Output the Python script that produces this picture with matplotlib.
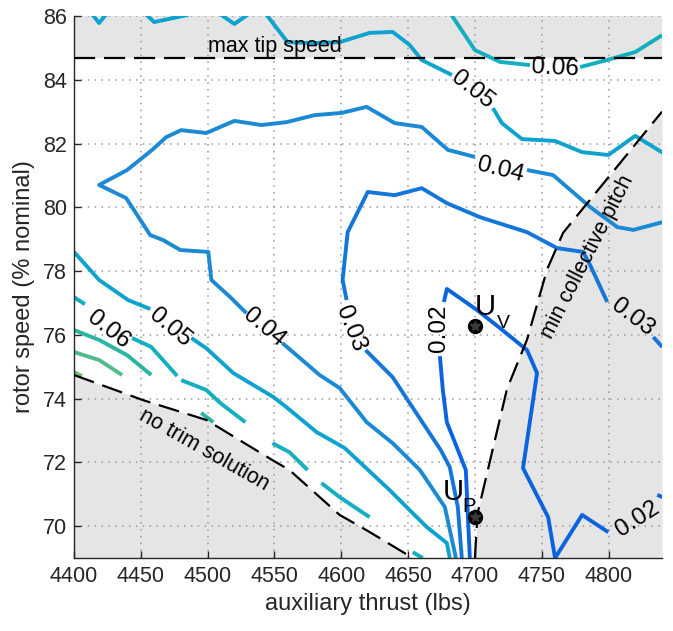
import numpy as np
import matplotlib
matplotlib.use('Agg')
import matplotlib.pyplot as plt

plt.rcParams['font.family'] = ['Liberation Sans', 'DejaVu Sans']

nan = np.nan

# ---- contour polylines (auxiliary thrust lbs, rotor speed % nominal); nan = break
c02_x = [4696.2, 4693.2, 4679.0, 4676.0, 4673.8, nan, 4676.8, 4679.0, 4701.5, 4718.8, 4739.0, 4746.5,
         4743.5, 4736.0, 4754.8, 4760.0, 4780.2, 4799.8, nan, 4836.5, 4840.2]
c02_y = [69.0, 71.76, 73.26, 74.27, 75.33, nan, 77.03, 77.44, 76.78, 76.21, 75.52, 74.80,
         73.95, 71.82, 70.28, 69.0, 70.35, 69.81, nan, 70.98, 70.91]

c03_x = [4690.2, 4687.2, 4681.2, 4674.5, 4651.2, 4638.5, 4618.2, nan, 4604.0, 4601.0, 4604.8, 4619.8,
         4640.0, 4660.2, 4679.0, 4703.8, 4739.0, 4761.5, 4781.0, 4786.2, 4799.0, nan, 4833.5, 4840.2]
c03_y = [69.0, 70.60, 71.85, 72.38, 73.86, 74.67, 75.52, nan, 77.09, 77.72, 79.22, 80.48,
         80.38, 80.60, 80.13, 79.69, 79.22, 78.72, 78.60, 78.19, 77.03, nan, 75.93, 75.62]

c04_x = [4685.8, 4677.5, 4658.8, 4638.5, 4619.0, 4598.8, 4583.8, 4556.0, nan, 4529.0, 4517.0, 4502.8,
         4500.5, 4479.5, 4466.8, 4457.0, 4439.0, 4418.8, 4439.8, 4458.5, 4469.0, 4480.2, 4499.0, 4520.0,
         4540.2, 4559.0, 4580.0, 4600.2, 4619.0, 4640.0, 4660.2, 4679.8, 4700.0, nan, 4739.0, 4758.5,
         4786.2, 4806.5, 4818.5, 4841.0]
c04_y = [69.0, 70.60, 71.76, 72.60, 73.26, 74.33, 74.74, 75.74, nan, 76.68, 77.18, 77.72,
         78.60, 78.66, 78.97, 79.13, 80.29, 80.70, 81.17, 81.80, 82.20, 82.42, 82.33, 82.71,
         82.58, 82.67, 82.89, 82.96, 83.15, 82.64, 82.52, 81.80, 81.58, nan, 81.17, 81.01,
         80.01, 79.38, 79.29, 79.54]

c05a_x = [4400, 4418.8, 4440.5, 4457.0, nan, 4487.8, 4499.0, 4519.2, 4549.2, 4559.0, 4581.5, 4602.5,
          4636.2, 4651.2, 4664.0, 4679.0, 4681.2]
c05a_y = [78.60, 77.72, 77.09, 76.81, nan, 75.90, 75.58, 74.80, 74.05, 73.73, 72.95, 72.45,
          71.13, 70.50, 69.97, 69.47, 69.0]

c05b_x = [4409.8, 4418.8, 4427.8, 4448.8, 4460.0, 4484.8, 4490.0, 4502.8, 4520.0, 4537.2, 4540.2,
          4559.8, 4578.5, 4598.8, 4621.2, 4638.5, 4651.2, 4660.2, 4682.8, nan, 4713.5, 4720.2, 4735.2,
          4760.0, 4780.2, 4799.8, 4820.0, 4841.0]
c05b_y = [86.25, 85.78, 86.25, 86.25, 85.81, 86.03, 86.25, 86.25, 85.75, 86.25, 86.25,
          85.18, 85.15, 85.18, 85.47, 85.50, 85.09, 84.62, 84.15, nan, 83.11, 82.64, 82.14,
          82.08, 81.73, 81.64, 82.24, 81.70]

c06a_x = [4400, 4408.2, nan, 4443.5, 4457.8, 4477.2, nan, 4480.2, 4499.0, 4509.5, 4528.2, nan,
          4548.5, 4561.2, 4574.8, nan, 4585.2, 4598.8, 4621.2, nan, 4653.5, 4661.0]
c06a_y = [77.18, 76.96, nan, 75.90, 75.62, 74.71, nan, 74.58, 74.27, 73.86, 73.26, nan,
          72.60, 72.32, 71.76, nan, 71.35, 70.91, 70.28, nan, 69.18, 69.0]

c06b_x = [4679.8, 4700.0, 4718.8, 4741.2, nan, 4778.8, 4799.0, 4820.0, 4840.2]
c06b_y = [86.2, 84.93, 84.56, 84.46, nan, 84.40, 84.62, 84.87, 85.40]

c07_x = [4400, 4418.8, 4439.8, 4457.8, nan, 4495.2, 4504.2]
c07_y = [76.15, 75.84, 75.36, 74.74, nan, 73.55, 73.26]
c08_x = [4400, 4418.8, 4436.0]
c08_y = [75.46, 75.21, 74.74]
c09_x = [4400, 4406.0]
c09_y = [74.83, 74.71]

# ---- constraint boundaries
notrim_x = [4400, 4451.8, 4499.0, 4548.5, 4561.2, 4598.8, 4619.0, 4653.5]
notrim_y = [74.74, 73.95, 73.33, 72.07, 71.76, 70.35, 69.87, 69.0]
mincol_x = [4700, 4702.0, 4724.0, 4739.0, 4754.0, 4766.0, 4840.0]
mincol_y = [69.0, 70.4, 74.3, 75.85, 78.05, 79.2, 83.0]
tip_speed = 84.68

# ---- design points
pt_x = [4700, 4700]
pt_y = [76.27, 70.3]

# ---- contour labels
lab_txt = ['0.02', '0.02', '0.03', '0.03', '0.04', '0.04', '0.05', '0.05', '0.06', '0.06']
lab_x = [4673.5, 4821.5, 4607.0, 4817.8, 4542.5, 4718.8, 4698.5, 4472.0, 4425.5, 4760.0]
lab_y = [76.2, 70.22, 76.2, 76.53, 76.24, 81.17, 83.68, 76.21, 76.15, 84.37]
lab_rot = [90, 33, -68, -37, -40, -14, -38, -40, -38, -3]

xticks = [4400, 4450, 4500, 4550, 4600, 4650, 4700, 4750, 4800]
yticks = [70, 72, 74, 76, 78, 80, 82, 84, 86]

colors = {
    '02': '#0a64df', '03': '#1476da', '04': '#1b89d4', '05': '#0ea3cf',
    '06': '#13afbf', '07': '#2bb5a2', '08': '#50bb8c', '09': '#6ebf78',
}

fig = plt.figure(figsize=(6.73, 6.31), dpi=100)
ax = fig.add_axes([74/673, (631-558)/631, (662-74)/673, (558-16)/631])
ax.set_xlim(4400, 4840)
ax.set_ylim(69, 86)

shade = '#e5e5e5'
ax.fill_between(notrim_x, 69, notrim_y, color=shade, lw=0, zorder=0.2)
ax.fill_betweenx(mincol_y, mincol_x, 4840, color=shade, lw=0, zorder=0.2)
ax.fill_betweenx([tip_speed, 86], 4400, 4840, color=shade, lw=0, zorder=0.2)

ax.grid(True, color='#999999', linestyle=(0, (1, 3.5)), linewidth=1.1)
ax.set_axisbelow(True)

lw = 2.8
series = [(c02_x, c02_y, '02'), (c03_x, c03_y, '03'), (c04_x, c04_y, '04'),
          (c05a_x, c05a_y, '05'), (c05b_x, c05b_y, '05'), (c06a_x, c06a_y, '06'),
          (c06b_x, c06b_y, '06'), (c07_x, c07_y, '07'), (c08_x, c08_y, '08'),
          (c09_x, c09_y, '09')]
for xs, ys, k in series:
    ax.plot(xs, ys, color=colors[k], lw=lw, solid_capstyle='butt', solid_joinstyle='round', zorder=2)

dash = (0, (9.5, 4.0))
ax.plot(notrim_x, notrim_y, color='black', lw=1.6, linestyle=dash, zorder=3)
ax.plot(mincol_x, mincol_y, color='black', lw=1.6, linestyle=dash, zorder=3)
ax.plot([4400, 4840], [tip_speed, tip_speed], color='black', lw=1.6, linestyle=dash, zorder=3)

for t, x, y, r in zip(lab_txt, lab_x, lab_y, lab_rot):
    ax.text(x, y, t, fontsize=17.5, rotation=r, rotation_mode='anchor',
            ha='center', va='center', color='black', zorder=4)

ax.text(4550, 84.72, 'max tip speed', fontsize=15.5, ha='center', va='bottom', zorder=4)
ax.text(4497.5, 72.38, 'no trim solution', fontsize=15.5, rotation=-29.5,
        rotation_mode='anchor', ha='center', va='center', zorder=4)
ax.text(4784, 78.45, 'min collective pitch', fontsize=15.5, rotation=63,
        rotation_mode='anchor', ha='center', va='center', zorder=4)

ax.plot(pt_x, pt_y, 'o', color='black', markersize=10, zorder=5)
ax.plot(pt_x, pt_y, '*', color='#3a3a3a', markersize=7, zorder=6)

# U_V and U_P annotations
ax.text(4700, 76.62, 'U', fontsize=21, ha='left', va='baseline', zorder=5)
ax.text(4716.5, 76.21, 'V', fontsize=14, ha='left', va='baseline', zorder=5)
ax.text(4676, 70.82, 'U', fontsize=21, ha='left', va='baseline', zorder=5)
ax.text(4690.5, 70.45, 'P', fontsize=14.5, ha='left', va='baseline', zorder=4.5)

ax.set_xticks(xticks)
ax.set_yticks(yticks)
ax.set_xticklabels([str(v) for v in xticks])
ax.set_yticklabels([str(v) for v in yticks])
ax.tick_params(direction='in', length=5, width=1, colors='#262626', labelsize=15.5, pad=6)
ax.tick_params(axis='y', pad=5)
for s in ['top', 'right']:
    ax.spines[s].set_visible(False)
for s in ['left', 'bottom']:
    ax.spines[s].set_color('#262626')
    ax.spines[s].set_linewidth(1)

ax.set_xlabel('auxiliary thrust (lbs)', fontsize=17, color='#262626', labelpad=4)
ax.set_ylabel('rotor speed (% nominal)', fontsize=17, color='#262626', labelpad=6)

fig.savefig('out.png', dpi=100)
